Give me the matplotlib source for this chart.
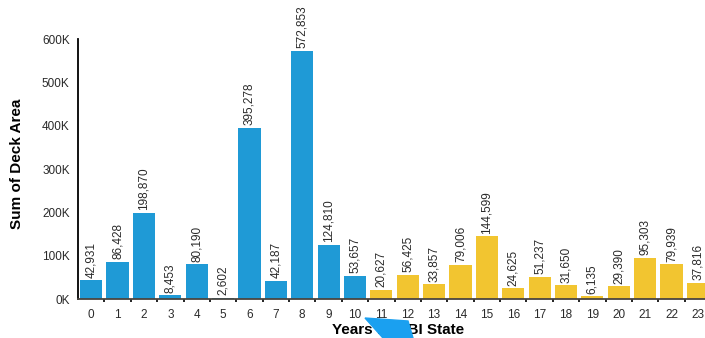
import matplotlib
matplotlib.use('Agg')
import matplotlib.pyplot as plt
from matplotlib.patches import Polygon
from matplotlib.ticker import FuncFormatter

plt.rcParams['font.family'] = ['Liberation Sans', 'DejaVu Sans']

years = list(range(24))
deck_area = [42931, 86428, 198870, 8453, 80190, 2602, 395278, 42187, 572853, 124810,
             53657, 20627, 56425, 33857, 79006, 144599, 24625, 51237, 31650, 6135,
             29390, 95303, 79939, 37816]
blue_years = 11  # years 0-10 are blue, the rest yellow

blue = '#1f9ad6'
yellow = '#f2c530'
colors = [blue if y < blue_years else yellow for y in years]

fig = plt.figure(figsize=(7.05, 3.38), dpi=100)
ax = fig.add_axes([78 / 705, 1 - 299 / 338, 1 - 78 / 705, (299 - 39) / 338])

ax.bar(years, deck_area, width=0.84, color=colors)

for x, v in zip(years, deck_area):
    ax.text(x, v + 6000, f"{v:,}", rotation=90, ha='center', va='bottom',
            fontsize=8.5, color='#2a2a2a')

ax.set_xlim(-0.5, 23.27)
ax.set_ylim(0, 600000)
ax.set_yticks(range(0, 600001, 100000))
ax.yaxis.set_major_formatter(FuncFormatter(lambda v, p: f"{int(v / 1000)}K"))
ax.set_xticks(years)
ax.set_xticks([y + 0.5 for y in years[:-1]], minor=True)

ax.tick_params(axis='y', length=0, labelsize=8.5, colors='#2a2a2a', pad=6)
ax.tick_params(axis='x', which='major', length=0, labelsize=8.5, colors='#2a2a2a', pad=7)
ax.tick_params(axis='x', which='minor', length=2, width=1.2, color='black')

for s in ['top', 'right']:
    ax.spines[s].set_visible(False)
ax.spines['left'].set_color('black')
ax.spines['left'].set_linewidth(1.3)
ax.spines['bottom'].set_color('#4a4540')
ax.spines['bottom'].set_linewidth(1.3)

fig.text(17 / 705, 1 - 164 / 338, 'Sum of Deck Area', rotation=90, ha='center',
         va='center', fontsize=11, weight='bold')
fig.text(398 / 705, 1 - 330 / 338, 'Years in MBI State', ha='center', va='center',
         fontsize=11, weight='bold')

# blue cursor-like shape covering part of the x label
pts = [(365, 318), (408, 321), (413, 338), (383, 338)]
fig.patches.append(Polygon([(px / 705, 1 - py / 338) for px, py in pts], closed=True,
                           transform=fig.transFigure, color='#1aa0f0', zorder=5))

plt.savefig('out.png', dpi=100)
